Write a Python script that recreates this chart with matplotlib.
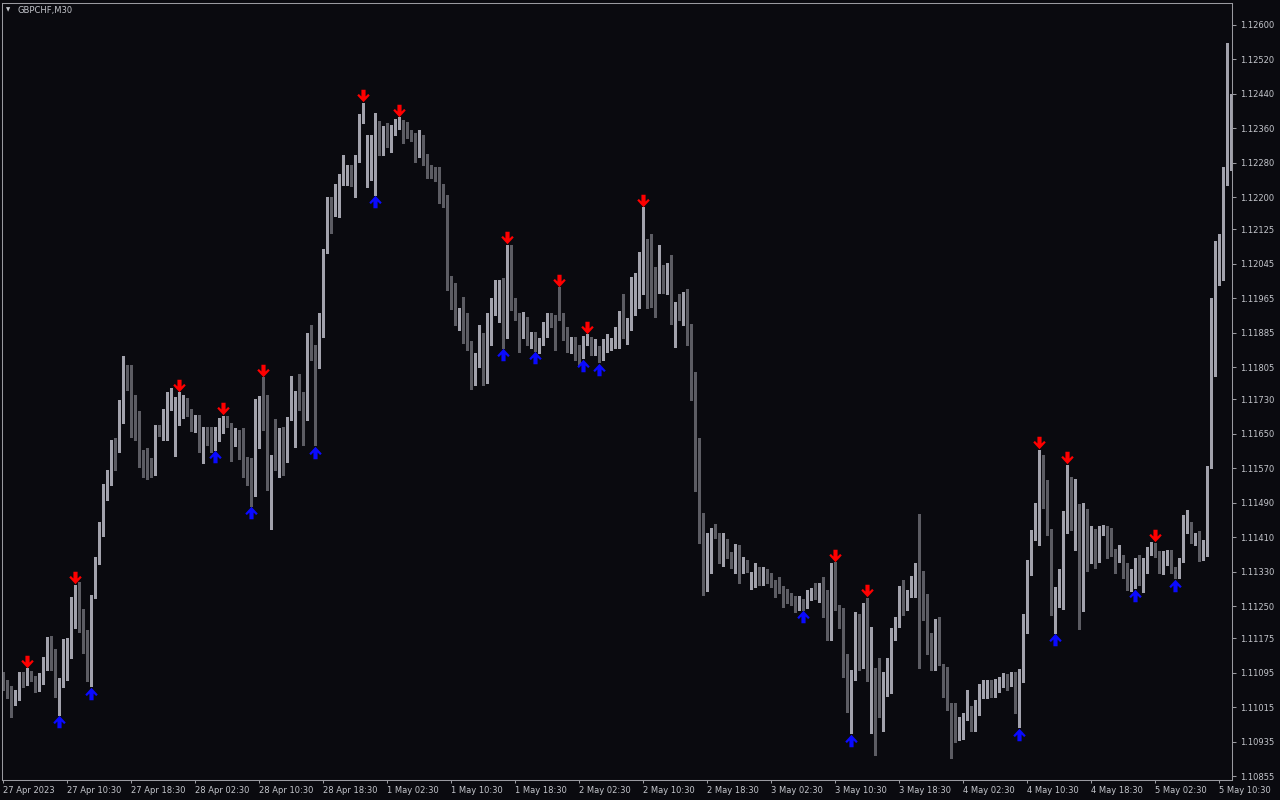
import numpy as np
import matplotlib
matplotlib.use("Agg")
import matplotlib.pyplot as plt
from matplotlib.path import Path
from matplotlib.transforms import offset_copy

symbol = "GBPCHF,M30"
base = 1.1  # prices below are in points (0.00001) above 1.10000

opens = [
    1085, 1071, 1057, 1025, 1041, 1090, 1073, 1095, 1083, 1055,
    1071, 1108, 1164, 1129, 1041, 1064, 1118, 1134, 1199, 1280,
    1202, 1143, 1076, 1271, 1350, 1427, 1508, 1543, 1624, 1624,
    1703, 1787, 1775, 1661, 1657, 1606, 1573, 1569, 1559, 1666,
    1643, 1648, 1715, 1599, 1692, 1696, 1724, 1696, 1659, 1687,
    1610, 1638, 1634, 1615, 1638, 1657, 1685, 1673, 1629, 1654,
    1620, 1557, 1543, 1510, 1620, 1733, 1729, 1520, 1592, 1573,
    1647, 1589, 1687, 1715, 1754, 1710, 1685, 1857, 1836, 1819,
    1912, 2080, 2177, 2166, 2226, 2233, 2263, 2268, 2235, 2291,
    2386, 2249, 2286, 2328, 2375, 2303, 2363, 2328, 2351, 2368,
    2377, 2356, 2349, 2342, 2298, 2344, 2291, 2258, 2256, 2254,
    2210, 2198, 2015, 1952, 1922, 1931, 1926, 1864, 1785, 1829,
    1871, 1775, 1924, 1931, 1912, 1915, 1877, 2087, 1950, 1926,
    1884, 1908, 1868, 1875, 1857, 1866, 1901, 1919, 1908, 1968,
    1901, 1877, 1850, 1854, 1845, 1829, 1864, 1866, 1840, 1843,
    1826, 1850, 1852, 1854, 1884, 1915, 1896, 1898, 1966, 1977,
    1977, 2063, 2063, 1989, 1984, 2033, 1982, 2040, 1919, 1938,
    1931, 1931, 1866, 1771, 1520, 1404, 1290, 1366, 1427, 1417,
    1364, 1404, 1371, 1350, 1390, 1341, 1353, 1322, 1327, 1327,
    1304, 1334, 1318, 1308, 1297, 1290, 1271, 1271, 1262, 1246,
    1257, 1250, 1278, 1290, 1271, 1290, 1241, 1178, 1325, 1246,
    1211, 1132, 1027, 1095, 1220, 1111, 1250, 1081, 1099, 1011,
    995, 1085, 1109, 1176, 1213, 1262, 1250, 1280, 1280, 1297,
    1260, 1253, 1143, 1106, 1194, 1062, 1057, 1018, 1004, 948,
    951, 995, 1002, 990, 1002, 1041, 1044, 1057, 1048, 1071,
    1071, 1078, 1071, 1083, 1030, 1095, 1220, 1339, 1411, 1460,
    1599, 1522, 1420, 1246, 1269, 1318, 1429, 1501, 1443, 1464,
    1267, 1448, 1373, 1408, 1360, 1429, 1429, 1427, 1369, 1362,
    1366, 1334, 1292, 1327, 1362, 1292, 1336, 1383, 1383, 1371,
    1339, 1366, 1376, 1336, 1327, 1357, 1429, 1443, 1401, 1406,
    1369, 1383, 1578, 1836, 2068, 2103, 2252, 2391,
]
highs = [
    1097, 1078, 1064, 1055, 1097, 1097, 1106, 1099, 1088, 1095,
    1132, 1178, 1181, 1150, 1083, 1174, 1176, 1271, 1299, 1306,
    1243, 1194, 1276, 1364, 1445, 1534, 1566, 1636, 1641, 1729,
    1831, 1810, 1810, 1740, 1703, 1613, 1617, 1594, 1671, 1671,
    1708, 1747, 1757, 1736, 1747, 1740, 1733, 1708, 1694, 1694,
    1666, 1666, 1666, 1666, 1687, 1692, 1692, 1675, 1664, 1659,
    1664, 1596, 1594, 1731, 1738, 1782, 1740, 1601, 1685, 1664,
    1666, 1689, 1785, 1750, 1789, 1747, 1884, 1903, 1857, 1931,
    2080, 2200, 2200, 2231, 2254, 2298, 2275, 2275, 2298, 2393,
    2419, 2344, 2344, 2396, 2377, 2366, 2372, 2368, 2382, 2386,
    2379, 2375, 2356, 2349, 2356, 2344, 2300, 2275, 2270, 2270,
    2231, 2205, 2017, 2001, 1943, 1968, 1931, 1866, 1838, 1903,
    1884, 1931, 1966, 2008, 2008, 2012, 2089, 2089, 1966, 1931,
    1933, 1922, 1887, 1887, 1873, 1910, 1931, 1931, 1926, 1991,
    1931, 1898, 1875, 1875, 1857, 1878, 1882, 1875, 1871, 1854,
    1871, 1882, 1873, 1898, 1935, 1975, 1919, 2015, 2024, 2073,
    2177, 2103, 2114, 2038, 2089, 2042, 2047, 2066, 1956, 1975,
    1980, 1987, 1905, 1794, 1641, 1466, 1420, 1431, 1441, 1420,
    1420, 1406, 1376, 1394, 1392, 1364, 1357, 1329, 1350, 1341,
    1341, 1336, 1327, 1311, 1318, 1297, 1290, 1280, 1273, 1273,
    1266, 1287, 1292, 1304, 1304, 1318, 1287, 1350, 1352, 1253,
    1246, 1139, 1101, 1236, 1232, 1257, 1269, 1202, 1106, 1129,
    1097, 1129, 1199, 1225, 1297, 1311, 1287, 1320, 1350, 1464,
    1332, 1278, 1188, 1220, 1225, 1115, 1109, 1025, 1025, 992,
    1002, 1055, 1018, 1032, 1069, 1078, 1078, 1078, 1080, 1085,
    1095, 1092, 1097, 1097, 1104, 1232, 1357, 1427, 1490, 1613,
    1601, 1543, 1429, 1294, 1336, 1471, 1578, 1550, 1545, 1487,
    1490, 1476, 1436, 1429, 1436, 1438, 1436, 1431, 1383, 1392,
    1369, 1350, 1336, 1362, 1369, 1362, 1387, 1399, 1397, 1378,
    1378, 1380, 1380, 1341, 1362, 1462, 1473, 1445, 1420, 1425,
    1404, 1575, 1966, 2098, 2114, 2270, 2558, 2440,
]
lows = [
    1055, 1037, 992, 1020, 1032, 1062, 1067, 1076, 1051, 1053,
    1069, 1101, 1101, 1039, 997, 1062, 1078, 1129, 1199, 1190,
    1141, 1076, 1064, 1269, 1348, 1413, 1497, 1531, 1566, 1608,
    1675, 1752, 1643, 1636, 1573, 1550, 1545, 1550, 1555, 1645,
    1636, 1636, 1706, 1599, 1671, 1687, 1692, 1657, 1654, 1608,
    1582, 1624, 1608, 1613, 1634, 1652, 1666, 1587, 1622, 1592,
    1550, 1531, 1483, 1506, 1617, 1659, 1520, 1429, 1566, 1550,
    1555, 1585, 1682, 1620, 1706, 1624, 1682, 1822, 1624, 1803,
    1875, 2070, 2117, 2156, 2154, 2228, 2228, 2226, 2200, 2282,
    2372, 2224, 2240, 2205, 2298, 2298, 2317, 2305, 2344, 2358,
    2326, 2337, 2330, 2282, 2293, 2275, 2245, 2245, 2238, 2186,
    2177, 1984, 1940, 1903, 1891, 1861, 1845, 1754, 1764, 1805,
    1764, 1768, 1857, 1926, 1910, 1850, 1873, 1938, 1915, 1840,
    1873, 1857, 1850, 1843, 1838, 1857, 1875, 1898, 1845, 1915,
    1868, 1840, 1838, 1822, 1810, 1826, 1857, 1833, 1833, 1817,
    1822, 1840, 1845, 1850, 1850, 1873, 1859, 1892, 1926, 1943,
    1975, 1943, 1945, 1922, 1977, 1977, 1975, 1905, 1852, 1915,
    1903, 1857, 1729, 1517, 1397, 1276, 1285, 1327, 1408, 1350,
    1343, 1362, 1339, 1327, 1304, 1327, 1329, 1290, 1294, 1299,
    1299, 1304, 1294, 1271, 1280, 1248, 1257, 1253, 1236, 1241,
    1241, 1246, 1264, 1267, 1260, 1225, 1171, 1171, 1241, 1199,
    1085, 1004, 955, 1078, 1101, 1106, 1076, 955, 904, 992,
    960, 1041, 1048, 1171, 1201, 1229, 1241, 1271, 1271, 1106,
    1218, 1139, 1101, 1101, 1113, 1039, 1009, 897, 934, 939,
    941, 985, 960, 960, 997, 1037, 1037, 1039, 1039, 1050,
    1062, 1055, 1064, 1002, 969, 1074, 1188, 1322, 1404, 1392,
    1478, 1415, 1229, 1188, 1248, 1243, 1420, 1427, 1380, 1197,
    1239, 1332, 1350, 1339, 1353, 1415, 1362, 1366, 1327, 1353,
    1315, 1287, 1285, 1292, 1299, 1283, 1327, 1369, 1364, 1327,
    1325, 1346, 1327, 1315, 1315, 1353, 1420, 1397, 1392, 1355,
    1357, 1366, 1571, 1785, 1996, 2008, 2228, 2263,
]
closes = [
    1071, 1053, 1025, 1041, 1090, 1071, 1092, 1083, 1055, 1071,
    1113, 1162, 1129, 1044, 1069, 1125, 1134, 1204, 1280, 1199,
    1143, 1078, 1271, 1352, 1427, 1520, 1538, 1613, 1589, 1706,
    1792, 1771, 1657, 1652, 1606, 1569, 1562, 1562, 1668, 1650,
    1650, 1717, 1750, 1696, 1699, 1724, 1696, 1661, 1685, 1610,
    1638, 1631, 1615, 1643, 1664, 1685, 1671, 1627, 1654, 1615,
    1557, 1538, 1510, 1622, 1733, 1729, 1522, 1594, 1571, 1650,
    1589, 1687, 1717, 1743, 1710, 1682, 1857, 1833, 1817, 1919,
    2077, 2179, 2166, 2226, 2233, 2265, 2270, 2235, 2293, 2391,
    2412, 2291, 2326, 2368, 2303, 2363, 2326, 2351, 2368, 2375,
    2351, 2349, 2344, 2298, 2342, 2291, 2254, 2254, 2251, 2212,
    2196, 2010, 1952, 1922, 1929, 1926, 1861, 1785, 1831, 1873,
    1782, 1926, 1931, 1966, 1970, 1877, 2087, 1945, 1926, 1887,
    1908, 1871, 1873, 1859, 1866, 1903, 1917, 1908, 1884, 1919,
    1877, 1850, 1854, 1829, 1822, 1871, 1871, 1840, 1845, 1826,
    1850, 1857, 1859, 1887, 1915, 1896, 1908, 1966, 2008, 2010,
    2061, 2038, 1989, 1984, 2033, 1982, 2038, 1919, 1938, 1931,
    1936, 1866, 1768, 1522, 1404, 1287, 1371, 1427, 1415, 1366,
    1401, 1369, 1350, 1392, 1341, 1353, 1341, 1329, 1329, 1301,
    1334, 1315, 1304, 1292, 1287, 1271, 1267, 1260, 1246, 1257,
    1250, 1278, 1290, 1271, 1292, 1239, 1176, 1327, 1246, 1211,
    1132, 1030, 1099, 1222, 1111, 1248, 1078, 1101, 1009, 997,
    1090, 1118, 1178, 1215, 1264, 1250, 1280, 1287, 1299, 1257,
    1248, 1143, 1111, 1192, 1129, 1053, 1016, 1004, 948, 955,
    995, 999, 990, 1002, 1046, 1050, 1057, 1048, 1078, 1076,
    1078, 1071, 1083, 1030, 1101, 1220, 1346, 1415, 1464, 1601,
    1520, 1420, 1234, 1274, 1318, 1436, 1499, 1443, 1464, 1264,
    1450, 1376, 1411, 1360, 1427, 1434, 1425, 1369, 1366, 1366,
    1334, 1292, 1322, 1355, 1313, 1341, 1383, 1387, 1373, 1339,
    1366, 1376, 1339, 1325, 1357, 1429, 1443, 1406, 1406, 1366,
    1385, 1559, 1838, 2068, 2110, 2256, 2396, 2398,
]

# bars carrying the indicator signals
sell_signals = [6, 18, 44, 55, 65, 90, 99, 126, 139, 146, 160, 208, 216, 259, 266, 288]
buy_signals = [14, 22, 53, 62, 78, 93, 125, 133, 145, 149, 200, 212, 254, 263, 283, 293]

time_labels = ["27 Apr 2023", "27 Apr 10:30", "27 Apr 18:30", "28 Apr 02:30",
               "28 Apr 10:30", "28 Apr 18:30", "1 May 02:30", "1 May 10:30",
               "1 May 18:30", "2 May 02:30", "2 May 10:30", "2 May 18:30",
               "3 May 02:30", "3 May 10:30", "3 May 18:30", "4 May 02:30",
               "4 May 10:30", "4 May 18:30", "5 May 02:30", "5 May 10:30"]
price_ticks = [1.12600, 1.12520, 1.12440, 1.12360, 1.12280, 1.12200, 1.12125,
               1.12045, 1.11965, 1.11885, 1.11805, 1.11730, 1.11650, 1.11570,
               1.11490, 1.11410, 1.11330, 1.11250, 1.11175, 1.11095, 1.11015,
               1.10935, 1.10855]

bg = "#0a0a0f"
bull_col = "#a2a2ac"
bear_col = "#5c5c63"
axis_col = "#9a9aa0"
text_col = "#c4c6cc"

o = base + np.array(opens) / 1e5
h = base + np.array(highs) / 1e5
l = base + np.array(lows) / 1e5
c = base + np.array(closes) / 1e5
x = np.arange(len(o))
up = c >= o
cols = np.where(up, bull_col, bear_col)

fig = plt.figure(figsize=(12.8, 8), dpi=100, facecolor=bg)
ax = fig.add_axes([2 / 1280, 20 / 800, 1230 / 1280, 777 / 800])
ax.set_facecolor(bg)

ax.vlines(x, l, h, colors=cols, linewidth=0.75, antialiased=False, zorder=1)
body = np.maximum(np.abs(c - o), 2.3e-5)
ax.bar(x, body, bottom=np.minimum(o, c), width=0.62, color=cols,
       linewidth=0, antialiased=False, zorder=2)

# arrow glyphs, drawn in pixel units
down_verts = [(-2, 6.5), (2, 6.5), (2, 0), (4.5, 2.5), (6, 1),
              (0, -5.5), (-6, 1), (-4.5, 2.5), (-2, 0), (-2, 6.5)]
down_arrow = Path(down_verts, closed=True)
up_arrow = Path([(vx, -vy) for vx, vy in down_verts], closed=True)
msize = 13.5 * 72 / 100

above = offset_copy(ax.transData, fig=fig, y=6.5, units="dots")
below = offset_copy(ax.transData, fig=fig, y=-6.5, units="dots")
ax.plot(x[sell_signals], h[sell_signals], linestyle="none", marker=down_arrow,
        markersize=msize, color="#ff0000", markeredgewidth=0, transform=above, zorder=3)
ax.plot(x[buy_signals], l[buy_signals], linestyle="none", marker=up_arrow,
        markersize=msize, color="#0a0aff", markeredgewidth=0, transform=below, zorder=3)

ax.set_xlim(-0.25, 307.25)
ax.set_ylim(1.10846, 1.12651)

ax.yaxis.tick_right()
ax.set_yticks(price_ticks)
ax.set_yticklabels(["%.5f" % v for v in price_ticks])
ax.set_xticks(np.arange(0, 16 * len(time_labels), 16))
ax.set_xticklabels(time_labels, ha="left")
ax.tick_params(axis="y", colors=axis_col, labelcolor=text_col, length=3,
               width=0.75, pad=2.5, labelsize=6)
ax.tick_params(axis="x", colors=axis_col, labelcolor=text_col, length=2.5,
               width=0.75, pad=1.5, labelsize=6)
for side in ax.spines.values():
    side.set_color(axis_col)
    side.set_linewidth(0.75)

fig.text(6 / 1280, 1 - 10 / 800, "\u25bc", color=text_col, fontsize=4,
         va="center", ha="left")
fig.text(18 / 1280, 1 - 10 / 800, symbol, color=text_col, fontsize=6,
         va="center", ha="left")

fig.savefig("out.png", dpi=100, facecolor=bg)
